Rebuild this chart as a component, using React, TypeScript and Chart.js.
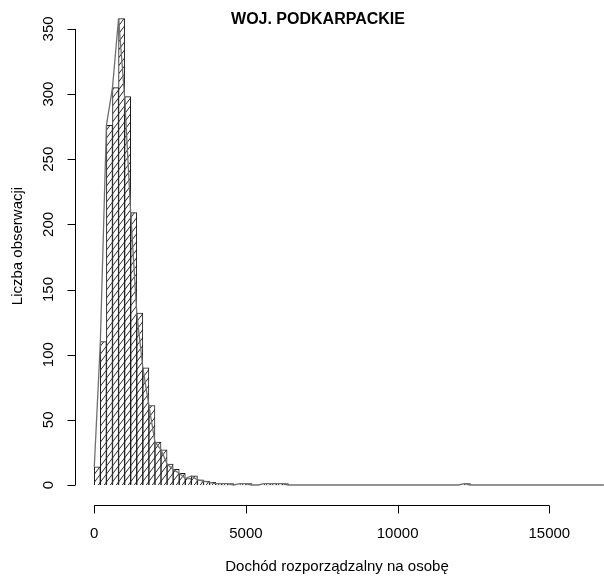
import React, { useEffect, useRef } from "react";
import { Chart, registerables } from "chart.js";

Chart.register(...registerables);

const TITLE = "WOJ. PODKARPACKIE";
const X_TITLE = "Dochód rozporządzalny na osobę";
const Y_TITLE = "Liczba obserwacji";

// Histogram bins (left edges, width 200) and counts
const BIN_WIDTH = 200;
const binStarts = [
  0, 200, 400, 600, 800, 1000, 1200, 1400, 1600, 1800, 2000, 2200, 2400, 2600,
  2800, 3000, 3200, 3400, 3600, 3800, 4000, 4200, 4400, 4600, 4800, 5000, 5200,
  5400, 5600, 5800, 6000, 6200, 6400, 12000, 12200, 12400, 16800,
];
const counts = [
  14, 110, 276, 305, 358, 298, 209, 132, 90, 61, 33, 27, 16, 12,
  9, 5, 7, 4, 3, 2, 1, 1, 1, 0, 1, 1, 0,
  0, 1, 1, 1, 1, 0, 0, 1, 0, 0,
];

const xTicks = [0, 5000, 10000, 15000];
const yTicks = [0, 50, 100, 150, 200, 250, 300, 350];

function makeHatch(): CanvasPattern | string {
  const w = 6;
  const h = 8;
  const c = document.createElement("canvas");
  c.width = w;
  c.height = h;
  const g = c.getContext("2d");
  if (!g) return "#fff";
  g.fillStyle = "#ffffff";
  g.fillRect(0, 0, w, h);
  g.strokeStyle = "#2a2a2a";
  g.lineWidth = 1;
  g.beginPath();
  const s = h / w;
  g.moveTo(-2, h + 2 * s);
  g.lineTo(w + 2, -2 * s);
  g.moveTo(-2 - w, h + 2 * s);
  g.lineTo(2, -2 * s);
  g.moveTo(w - 2, h + 2 * s);
  g.lineTo(2 * w + 2, -2 * s);
  g.stroke();
  const p = g.createPattern(c, "repeat");
  return p || "#fff";
}

const axesPlugin = {
  id: "rAxes",
  afterDraw(chart: any) {
    const ctx = chart.ctx as CanvasRenderingContext2D;
    const xs = chart.scales.x;
    const ys = chart.scales.y;
    const area = chart.chartArea;
    ctx.save();
    ctx.strokeStyle = "#000";
    ctx.fillStyle = "#000";
    ctx.lineWidth = 1;
    const font = '15px "Liberation Sans", Arial, sans-serif';

    // X axis
    const axY = Math.round(area.bottom) + 0.5;
    ctx.beginPath();
    ctx.moveTo(xs.getPixelForValue(xTicks[0]), axY);
    ctx.lineTo(xs.getPixelForValue(xTicks[xTicks.length - 1]), axY);
    xTicks.forEach((t) => {
      const px = Math.round(xs.getPixelForValue(t)) + 0.5;
      ctx.moveTo(px, axY);
      ctx.lineTo(px, axY + 8);
    });
    ctx.stroke();
    ctx.font = font;
    ctx.textAlign = "center";
    ctx.textBaseline = "middle";
    xTicks.forEach((t) => {
      ctx.fillText(String(t), xs.getPixelForValue(t), axY + 28);
    });
    ctx.fillText(X_TITLE, 337, 567);

    // Y axis
    const axX = Math.round(area.left) + 0.5;
    ctx.beginPath();
    ctx.moveTo(axX, ys.getPixelForValue(yTicks[0]));
    ctx.lineTo(axX, ys.getPixelForValue(yTicks[yTicks.length - 1]));
    yTicks.forEach((t) => {
      const py = Math.round(ys.getPixelForValue(t)) + 0.5;
      ctx.moveTo(axX, py);
      ctx.lineTo(axX - 8, py);
    });
    ctx.stroke();
    yTicks.forEach((t) => {
      ctx.save();
      ctx.translate(axX - 27, ys.getPixelForValue(t));
      ctx.rotate(-Math.PI / 2);
      ctx.fillText(String(t), 0, 0);
      ctx.restore();
    });
    ctx.save();
    ctx.translate(18, 246);
    ctx.rotate(-Math.PI / 2);
    ctx.fillText(Y_TITLE, 0, 0);
    ctx.restore();

    // Main title
    ctx.font = 'bold 16px "Liberation Sans", Arial, sans-serif';
    ctx.fillText(TITLE, 318, 20);
    ctx.restore();
  },
};

export default function App() {
  const ref = useRef<HTMLCanvasElement | null>(null);
  useEffect(() => {
    document.body.style.margin = "0";
    const canvas = ref.current;
    if (!canvas) return;
    const barData = binStarts
      .map((b, i) => ({ x: b + BIN_WIDTH / 2, y: counts[i] }))
      .filter((d) => d.y > 0);
    const lineData = binStarts.map((b, i) => ({ x: b, y: counts[i] }));
    const chart = new Chart(canvas, {
      type: "bar",
      data: {
        datasets: [
          {
            type: "line",
            data: lineData,
            borderColor: "#707070",
            borderWidth: 1.3,
            pointRadius: 0,
            tension: 0,
            order: 1,
          } as any,
          {
            type: "bar",
            data: barData,
            backgroundColor: makeHatch() as any,
            borderColor: "#1a1a1a",
            borderWidth: 1,
            barPercentage: 1,
            categoryPercentage: 1,
            order: 2,
          } as any,
        ],
      },
      options: {
        responsive: false,
        animation: false,
        events: [],
        layout: { padding: { left: 75, right: 0, top: 0, bottom: 71 } },
        plugins: {
          legend: { display: false },
          tooltip: { enabled: false },
          title: { display: false },
        },
        scales: {
          x: { type: "linear", min: -636, max: 16803, offset: false, display: false },
          y: { type: "linear", min: -15.35, max: 372.2, display: false },
        },
      },
      plugins: [axesPlugin],
    });
    return () => chart.destroy();
  }, []);
  return (
    <div style={{ width: 604, height: 576 }}>
      <canvas ref={ref} width={604} height={576} style={{ display: "block" }} />
    </div>
  );
}
